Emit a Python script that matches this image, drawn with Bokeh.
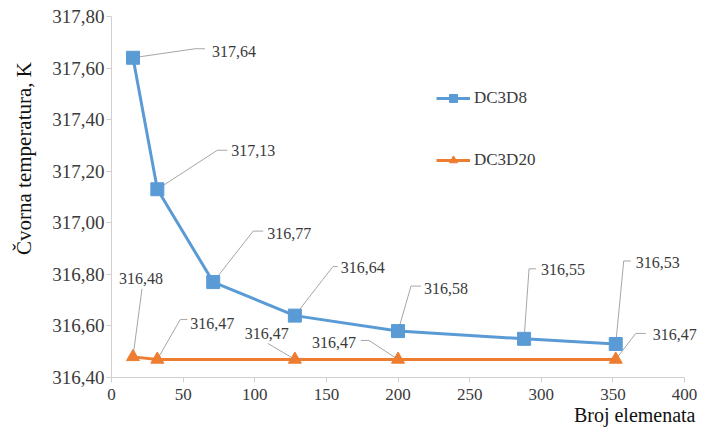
import math
from bokeh.plotting import figure
from bokeh.models import (Label, Legend, LegendItem,
                          CustomJSTickFormatter, FixedTicker, Range1d)
from bokeh.embed import file_html
from bokeh.resources import INLINE

# ---------------- data ----------------
elements_dc3d8 = [15, 32, 71, 128, 200, 288, 352]
temp_dc3d8 = [317.64, 317.13, 316.77, 316.64, 316.58, 316.55, 316.53]
labels_dc3d8 = ["317,64", "317,13", "316,77", "316,64", "316,58", "316,55", "316,53"]

elements_dc3d20 = [15, 32, 128, 200, 352]
temp_dc3d20 = [316.48, 316.47, 316.47, 316.47, 316.47]
labels_dc3d20 = ["316,48", "316,47", "316,47", "316,47", "316,47"]

x_ticks = [0, 50, 100, 150, 200, 250, 300, 350, 400]
y_ticks = [316.40, 316.60, 316.80, 317.00, 317.20, 317.40, 317.60, 317.80]

series_names = ["DC3D8", "DC3D20"]
x_title = "Broj elemenata"
y_title = "Čvorna temperatura, K"

# ---------------- layout / style ----------------
W, H = 697, 427
PX0, PX1, PY1, PY0 = 111, 684, 16, 377   # pixel box of the axes
X0, X1 = x_ticks[0], x_ticks[-1]
Y0, Y1 = y_ticks[0], y_ticks[-1]
KX = (PX1 - PX0) / (X1 - X0)
KY = (PY0 - PY1) / (Y1 - Y0)

BLUE = "#5B9BD5"
ORANGE = "#ED7D31"
LEADER = "#a6a6a6"
AXIS = "#d0d0d0"
TXT = "#3a3a3a"
FONT = "Liberation Serif"

# label callouts in pixels relative to the point: elbow, end, text(x, y, align)
callouts_dc3d8 = [
    ((62, -9), (72, -9), (79, -6, "left")),
    ((60, -39), (70, -39), (74, -39, "left")),
    ((40, -51), (50, -51), (54, -49, "left")),
    ((38, -49), (43, -49), (46, -48, "left")),
    ((13, -45), (23, -45), (26, -43, "left")),
    ((5, -70), (12, -70), (17, -69, "left")),
    ((8, -83), (15, -83), (20, -81, "left")),
]
callouts_dc3d20 = [
    ((9, -68), (9, -68), (8, -78, "center")),
    ((23, -40), (30, -40), (33, -36, "left")),
    ((-27, -16), (-27, -16), (-28, -26, "center")),
    ((-29, -19), (-37, -19), (-42, -17, "right")),
    ((20, -26), (30, -26), (37, -25, "left")),
]

p = figure(width=W, height=H, output_backend="svg", toolbar_location=None,
           x_range=Range1d(X0 - PX0 / KX, X1 + (W - PX1) / KX),
           y_range=Range1d(Y0 - (H - PY0) / KY, Y1 + PY1 / KY),
           min_border_left=0, min_border_right=0,
           min_border_top=0, min_border_bottom=0)
p.outline_line_color = None
p.grid.visible = False
p.background_fill_color = "white"
p.border_fill_color = "white"

for ax in (p.xaxis[0], p.yaxis[0]):
    ax.axis_line_color = AXIS
    ax.major_tick_line_color = AXIS
    ax.major_tick_in = 0
    ax.major_tick_out = 5
    ax.minor_tick_line_color = None
    ax.major_label_text_font = FONT
    ax.major_label_text_color = TXT

p.xaxis.fixed_location = Y0
p.yaxis.fixed_location = X0
p.xaxis.bounds = (X0, X1)
p.yaxis.bounds = (Y0, Y1)
p.xaxis.ticker = FixedTicker(ticks=x_ticks)
p.yaxis.ticker = FixedTicker(ticks=y_ticks)
p.yaxis.formatter = CustomJSTickFormatter(code="return tick.toFixed(2).replace('.', ',');")
p.xaxis.major_label_text_font_size = "17px"
p.yaxis.major_label_text_font_size = "19px"
p.xaxis.major_label_standoff = 6
p.yaxis.major_label_standoff = 2


def add_callouts(xs, ys, texts, callouts):
    lx, ly = [], []
    for x, y, t, (el, en, tp) in zip(xs, ys, texts, callouts):
        lx.append([x, x + el[0] / KX, x + en[0] / KX])
        ly.append([y, y - el[1] / KY, y - en[1] / KY])
        p.add_layout(Label(x=x + tp[0] / KX, y=y - tp[1] / KY, text=t,
                           text_align=tp[2], text_baseline="middle",
                           text_font=FONT, text_font_size="16px",
                           text_color=TXT))
    p.multi_line(lx, ly, line_color=LEADER, line_width=1)


add_callouts(elements_dc3d8, temp_dc3d8, labels_dc3d8, callouts_dc3d8)
add_callouts(elements_dc3d20, temp_dc3d20, labels_dc3d20, callouts_dc3d20)

l1 = p.line(elements_dc3d8, temp_dc3d8, line_color=BLUE, line_width=3)
m1 = p.scatter(elements_dc3d8, temp_dc3d8, marker="square", size=13,
               fill_color=BLUE, line_color=BLUE)
l2 = p.line(elements_dc3d20, temp_dc3d20, line_color=ORANGE, line_width=3)
m2 = p.scatter(elements_dc3d20, temp_dc3d20, marker="triangle", size=13,
               fill_color=ORANGE, line_color=ORANGE)

legend = Legend(items=[LegendItem(label=series_names[0], renderers=[l1, m1]),
                       LegendItem(label=series_names[1], renderers=[l2, m2])],
                location=(436, H - 170), orientation="vertical")
legend.padding = 0
legend.margin = 0
legend.spacing = 42
legend.glyph_width = 34
legend.glyph_height = 20
legend.label_height = 20
legend.label_standoff = 4
legend.label_text_font = FONT
legend.label_text_font_size = "17px"
legend.label_text_color = TXT
legend.border_line_color = None
legend.background_fill_alpha = 0
p.add_layout(legend, "center")

# axis titles
p.add_layout(Label(x=X0 - 88 / KX, y=Y1 - 142 / KY,
                   text=y_title, angle=math.pi / 2, text_align="center",
                   text_baseline="middle", text_font=FONT,
                   text_font_size="21px", text_color="#111111"))
p.add_layout(Label(x=X0 + 584 / KX, y=Y0 - 37 / KY,
                   text=x_title, text_align="right", text_baseline="middle",
                   text_font=FONT, text_font_size="20px", text_color="#111111"))

open("out.html", "w").write(file_html(p, INLINE))
